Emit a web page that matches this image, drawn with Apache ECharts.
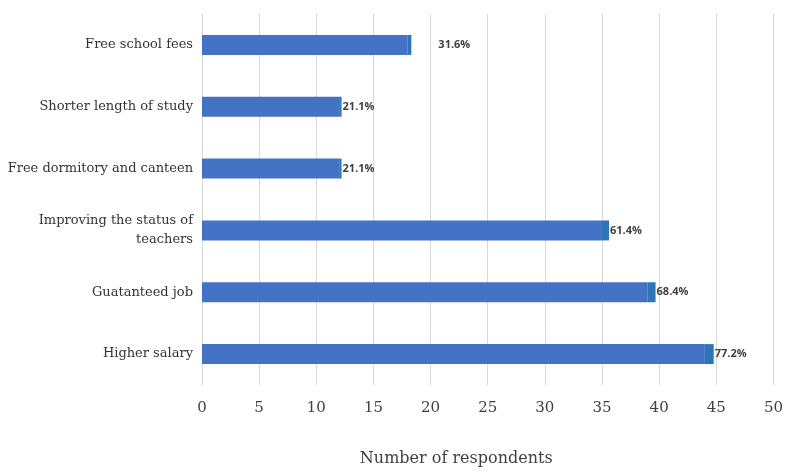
<!DOCTYPE html>
<html>
<head>
<meta charset="utf-8">
<script src="https://cdn.jsdelivr.net/npm/echarts@6/dist/echarts.min.js"></script>
<style>html,body{margin:0;padding:0;background:#fff;}#c{width:786px;height:472px;}</style>
</head>
<body>
<div id="c"></div>
<script>
var categories = ['Free school fees', 'Shorter length of study', 'Free dormitory and canteen', 'Improving the status of\nteachers', 'Guatanteed job', 'Higher salary'];
var counts = [18, 12, 12, 35, 39, 44];
var shares = [0.316, 0.211, 0.211, 0.614, 0.684, 0.772];
var xTicks = {min: 0, max: 50, interval: 5};
var axisTitle = 'Number of respondents';

var chart = echarts.init(document.getElementById('c'), null, {renderer: 'canvas'});
var shareData = shares.map(function (v, i) {
  var d = {value: v};
  if (i === 0) d.label = {offset: [26, 0]};
  return d;
});
chart.setOption({
  animation: false,
  backgroundColor: '#ffffff',
  grid: {left: 202, right: 12, top: 14, bottom: 78, containLabel: false},
  xAxis: {
    type: 'value', min: xTicks.min, max: xTicks.max, interval: xTicks.interval,
    axisLine: {show: false}, axisTick: {show: false},
    splitLine: {show: true, lineStyle: {color: '#d9d9d9', width: 1}},
    axisLabel: {color: '#404040', fontSize: 15, fontFamily: 'DejaVu Serif', margin: 16},
    name: axisTitle, nameLocation: 'middle', nameGap: 66,
    nameTextStyle: {color: '#404040', fontSize: 16, fontFamily: 'DejaVu Serif', padding: [0, 63, 0, 0]}
  },
  yAxis: {
    type: 'category', inverse: true, data: categories,
    axisLine: {show: true, lineStyle: {color: '#d9d9d9'}},
    axisTick: {show: false},
    axisLabel: {color: '#333333', fontSize: 13, fontFamily: 'DejaVu Serif', margin: 9, lineHeight: 19, align: 'right'}
  },
  series: [
    {
      type: 'bar', stack: 'a', data: counts, barWidth: 20,
      itemStyle: {color: '#4472C4'}, emphasis: {disabled: true}
    },
    {
      type: 'bar', stack: 'a', data: shareData, barWidth: 20,
      itemStyle: {color: '#2E75B6'}, emphasis: {disabled: true},
      label: {
        show: true, position: 'right', distance: 1,
        color: '#404040', fontSize: 11, fontWeight: 'bold', fontFamily: 'Open Sans',
        formatter: function (p) { return (p.value * 100).toFixed(1) + '%'; }
      }
    }
  ]
});
</script>
</body>
</html>
